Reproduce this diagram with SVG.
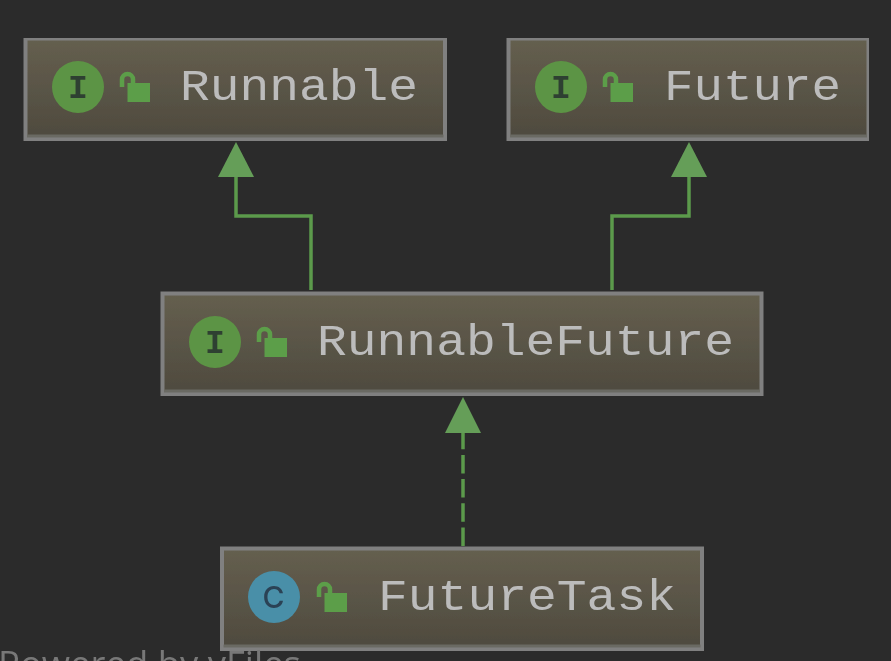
<svg xmlns="http://www.w3.org/2000/svg" width="891" height="661" viewBox="0 0 891 661">
<style>
.box{fill:url(#nodeFill);stroke:#808080;stroke-width:4}
.band{fill:#6b6a64}
.title{font-family:"Liberation Mono",monospace;font-size:44px;fill:#bcbcbc}
.ic{font-family:"Liberation Mono",monospace;font-weight:bold;font-size:33px;text-anchor:middle;fill:#2f4030}
.edge{fill:none;stroke:#5c9a4c;stroke-width:3.500}
.dash{stroke-dasharray:18.500 5.700}
.head{fill:#659e58}
.lock{fill:#5c9e48}
.shackle{fill:none;stroke:#5c9e48;stroke-width:4.500}
</style>
<defs>
<linearGradient id="nodeFill" x1="0" y1="0" x2="0" y2="1"><stop offset="0" stop-color="#655f4f"/><stop offset="1" stop-color="#4e4a3e"/></linearGradient>
<filter id="soft" x="0" y="0" width="100%" height="100%"><feGaussianBlur stdDeviation="0.500"/></filter>
<g id="lockIcon"><path class="shackle" d="M1 2V-5.500a5.500 5.500 0 0 1 11 0V-2"/><rect class="lock" x="6.500" y="-2" width="22.500" height="19"/></g>
</defs>
<rect width="891" height="661" fill="#2b2b2b"/>
<g filter="url(#soft)">
<g id="connectors">
<path class="edge" d="M311 290V216H236V176"/>
<path class="head" d="M218 177L236 142L254 177Z"/>
<path class="edge" d="M612 290V216H689V176"/>
<path class="head" d="M671 177L689 142L707 177Z"/>
<path class="edge dash" d="M463 546V430"/>
<path class="head" d="M445 433L463 397L481 433Z"/>
</g>
<g id="node-runnable">
<rect class="box" x="25.500" y="38.500" width="419.500" height="100.500"/>
<rect class="band" x="27" y="134.500" width="416.500" height="3"/>
<circle cx="78" cy="87" r="26" fill="#5c9444"/>
<text class="ic" x="78" y="98">I</text>
<use href="#lockIcon" x="121" y="85"/>
<text class="title" x="180" y="100" textLength="238" lengthAdjust="spacingAndGlyphs">Runnable</text>
</g>
<g id="node-future">
<rect class="box" x="508.500" y="38.500" width="360" height="100.500"/>
<rect class="band" x="510" y="134.500" width="357" height="3"/>
<circle cx="561" cy="87" r="26" fill="#5c9444"/>
<text class="ic" x="561" y="98">I</text>
<use href="#lockIcon" x="604" y="85"/>
<text class="title" x="664" y="100" textLength="177" lengthAdjust="spacingAndGlyphs">Future</text>
</g>
<g id="node-runnablefuture">
<rect class="box" x="162.500" y="293.500" width="599" height="100.500"/>
<rect class="band" x="164" y="389.500" width="596" height="3"/>
<circle cx="215" cy="342" r="26" fill="#5c9444"/>
<text class="ic" x="215" y="353">I</text>
<use href="#lockIcon" x="258" y="340"/>
<text class="title" x="317" y="355" textLength="417" lengthAdjust="spacingAndGlyphs">RunnableFuture</text>
</g>
<g id="node-futuretask">
<rect class="box" x="222" y="548.500" width="480" height="100.500"/>
<rect class="band" x="223.500" y="644.500" width="477" height="3"/>
<circle cx="274" cy="597" r="26" fill="#4a8fa8"/>
<text x="273.500" y="608" text-anchor="middle" font-family="Inter, sans-serif" font-size="30" font-weight="500" fill="#2c4254">C</text>
<use href="#lockIcon" x="318" y="595"/>
<text class="title" x="378" y="610" textLength="298" lengthAdjust="spacingAndGlyphs">FutureTask</text>
</g>
<text id="credit" x="-2" y="677" font-family="Open Sans, sans-serif" font-size="37" fill="#787878" textLength="303" lengthAdjust="spacingAndGlyphs">Powered by yFiles</text>
</g>
</svg>
